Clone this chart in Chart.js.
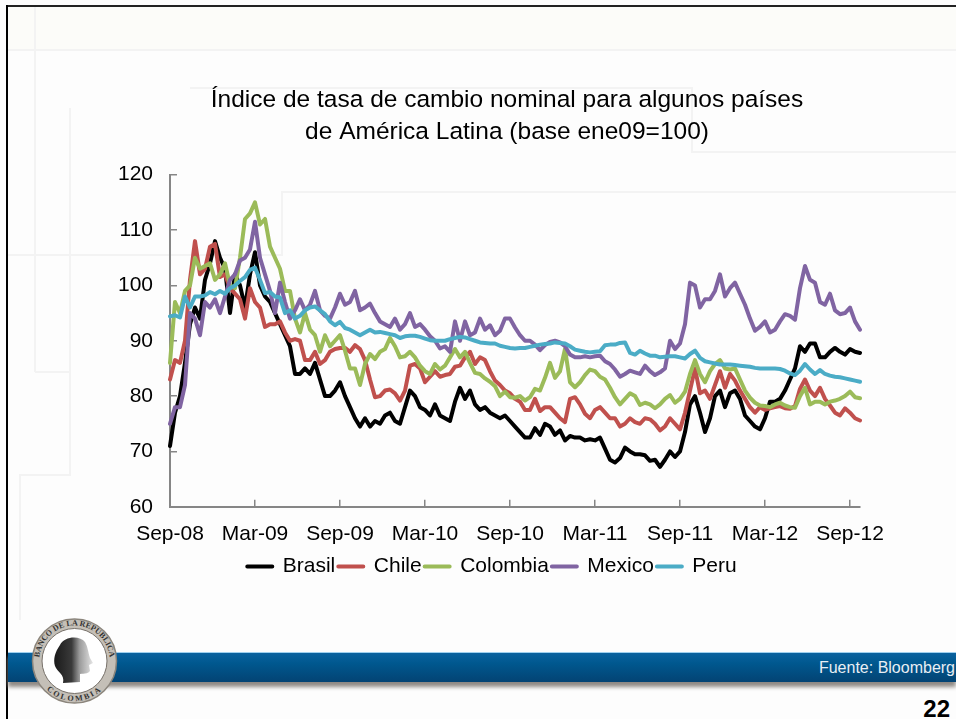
<!DOCTYPE html>
<html>
<head>
<meta charset="utf-8">
<title>Tasa de cambio nominal</title>
<script src="https://cdn.jsdelivr.net/npm/chart.js@4"></script>
<style>
  html, body { margin: 0; padding: 0; background: #fff; }
  #slide { position: relative; width: 956px; height: 719px; overflow: hidden; background: #fdfdfd; font-family: "Liberation Sans", Arial, sans-serif; }
  #slide svg, #slide canvas, #slide div { position: absolute; }
  #chart { left: 0; top: 0; }
  #band { left: 8px; right: 0; top: 652px; height: 30px; background: linear-gradient(#0b629f, #00588f 35%, #034373); border-top: 1px solid #9fd0ee; box-sizing: border-box; box-shadow: 0 5px 4px #8f8a85; }
  #source { right: 1px; top: 659px; color: #e8eef4; font-size: 16px; }
  #page { right: 6px; top: 695px; font-size: 24px; font-weight: bold; color: #000; }
</style>
</head>
<body>
<div id="slide">
  <svg id="decor" width="956" height="719">
    <rect x="8" y="6" width="948" height="44" fill="#fcfcf9"/>
    <g stroke="#f3f3f3" stroke-width="2" fill="none">
      <path d="M8 50H956"/>
      <path d="M35 6V372"/>
      <path d="M70 108V475H20V620"/>
      <path d="M35 372H70"/>
      <path d="M8 255H282V192H956"/>
      <path d="M190 88H692V152H956"/>
    </g>
    <rect x="6" y="5" width="950" height="2" fill="#222"/>
    <rect x="6" y="5" width="2" height="714" fill="#000"/>
  </svg>
  <div id="band"></div>
  <div id="source">Fuente: Bloomberg</div>
  <div id="page">22</div>
  <svg id="seal" width="956" height="719">
    <defs>
      <path id="sealTop" d="M41 672A35.3 35.3 0 1 1 108 672"/>
      <path id="sealBottom" d="M40.5 682A40 40 0 0 0 108.5 682"/>
      <linearGradient id="head" x1="0" y1="0" x2="1" y2="0">
        <stop offset="0" stop-color="#1a1a1a"/>
        <stop offset="0.45" stop-color="#3a3a3a"/>
        <stop offset="0.65" stop-color="#9a9a9a"/>
        <stop offset="1" stop-color="#e5e5e5"/>
      </linearGradient>
    </defs>
    <circle cx="74.5" cy="661" r="42" fill="#c4bfb7" stroke="#8b857c" stroke-width="1.5"/>
    <circle cx="74.5" cy="661" r="32.5" fill="#fff" stroke="#77716a" stroke-width="1"/>
    <path d="M60 645C64 636 80 635 85 642C88 647 88 652 90 658L93 663L89 665L90 671C87 675 83 673 80 674L80 682L63 683C65 674 57 672 55 666C53 659 55 652 60 645Z" fill="url(#head)"/>
    <text font-family="Liberation Serif" font-weight="bold" font-size="8" fill="#333">
      <textPath href="#sealTop" startOffset="50%" text-anchor="middle">BANCO DE LA REPUBLICA</textPath>
    </text>
    <text font-family="Liberation Serif" font-weight="bold" font-size="8" fill="#333" letter-spacing="2">
      <textPath href="#sealBottom" startOffset="50%" text-anchor="middle">COLOMBIA</textPath>
    </text>
  </svg>
  <canvas id="chart" width="956" height="719"></canvas>
</div>

<script>
const tickLabels = ['Sep-08', 'Mar-09', 'Sep-09', 'Mar-10', 'Sep-10', 'Mar-11', 'Sep-11', 'Mar-12', 'Sep-12'];

// values, about one every ten days
const brasil = [
  71, 77, 80, 86, 93, 96, 94, 101, 104, 108,
  105, 103, 95, 102, 100, 96, 102, 106, 100, 98,
  97, 95, 93, 91, 89, 84, 84, 85, 84, 86,
  83, 80, 80, 81, 82.5, 80, 78, 76, 74.5, 76,
  74.5, 75.5, 75, 76.5, 77, 75.5, 75, 78, 81, 80,
  78, 77.5, 76.5, 78.5, 76.5, 76, 75.5, 79, 81.5, 79.5,
  81, 78.5, 77.5, 78, 77, 76.5, 76, 76.5, 75.5, 74.5,
  73.5, 72.5, 72.5, 74.2, 73, 75, 74.5, 73, 73.8, 72,
  72.8, 72.5, 72.5, 72, 72.2, 72, 72.5, 70.5, 68.5, 68,
  68.8, 70.7, 70, 69.5, 69.5, 69.3, 68.3, 68.5, 67.2, 68.5,
  70, 69, 70, 73.5, 78.5, 80, 77, 73.5, 76, 80,
  81, 78, 80.5, 81, 79.5, 76.5, 75.5, 74.5, 74, 76,
  79, 79, 79.5, 81, 83, 85, 89, 88, 89.5, 89.5,
  87, 87, 88, 88.7, 88, 87.5, 88.5, 88, 87.8
];
const chile = [
  83, 86.5, 86, 90, 101, 108, 102, 103, 107, 107.5,
  101.5, 102, 99.5, 98.5, 97.5, 94, 99.5, 97, 96, 92.5,
  93, 93, 93.5, 91.5, 90, 90.3, 90, 86.5, 86.5, 88,
  85.8, 86.5, 88, 88.5, 88.7, 88.7, 88, 89.2, 88.5, 86.5,
  83, 79.8, 80, 81, 81.2, 80.5, 79.2, 81, 85.5, 85.8,
  85, 82.5, 83.5, 84.5, 83.5, 83.8, 84, 85.3, 85.5, 87,
  88, 85.8, 87, 86.5, 84.5, 82.8, 82, 81, 80.5, 79.5,
  79, 77.5, 77.5, 79.5, 77.3, 78, 78, 77, 76, 75.3,
  79.5, 79.8, 78.5, 76.8, 76, 77.5, 78, 77, 76, 76,
  74.5, 75, 76, 75.3, 75, 76, 75.8, 75, 73.8, 74.5,
  76, 75, 74, 77, 81, 85, 80.5, 81, 79.5, 82,
  84.5, 81.5, 84, 82.8, 81, 79.5, 78, 77, 78, 77.5,
  77.8, 78, 78.2, 77.8, 77.7, 78.2, 81.3, 83, 81, 80,
  81.5, 79.5, 78.3, 77, 76.5, 77.8, 77, 76, 75.6
];
const colombia = [
  86, 97, 95, 99, 100, 105, 103, 103.5, 104, 101,
  102, 104, 100, 99.5, 105, 112, 113, 115, 111, 112,
  107, 105, 103, 99, 99, 94, 91.5, 95, 92, 91,
  88, 91, 89, 90, 91, 88.2, 85, 85, 82, 85.8,
  87.6, 86.7, 88, 88.5, 90.5, 89, 87, 87.2, 88, 87,
  85.5, 84.5, 84, 85.8, 84.8, 85.5, 87, 88.5, 87, 88,
  86, 84.2, 84, 83.2, 82.6, 81.8, 80, 80.8, 79.8, 79.7,
  80, 79.2, 79.8, 81.3, 81, 83.3, 86, 83.3, 84.5, 88.5,
  82.5, 81.6, 82.5, 83.8, 84.8, 84.5, 83.5, 83, 81.5, 79.8,
  78.5, 79.5, 80.5, 80, 78.4, 78.8, 78.5, 77.8, 78.5, 79.5,
  80.2, 78.8, 79.5, 80.8, 84, 86.5, 84, 82.5, 84.5, 85.8,
  86.5, 85, 84.8, 85, 83, 81, 79.7, 78.8, 78.3, 78.2,
  78, 78.5, 78.8, 78.3, 78, 77.9, 80, 81.5, 78.5, 79,
  79, 78.5, 79, 79.2, 79.5, 80, 80.8, 79.8, 79.6
];
const mexico = [
  75, 78, 78, 82, 95, 94, 91, 97, 96, 97.5,
  95, 98, 101, 102, 104.5, 105, 106.5, 111.5, 105, 102,
  99, 95, 100.5, 97, 94, 95.5, 97.5, 95.5, 96.5, 99,
  95.5, 94.5, 94, 96, 98.5, 96.5, 97, 99, 95.5, 96,
  96.7, 95, 93.5, 93, 92.5, 94, 92, 93, 95, 92.5,
  93, 92, 90.8, 90, 88.6, 89, 88, 93.5, 90, 93.5,
  91, 91.5, 94, 92, 92.8, 91, 91.8, 94, 94, 92.4,
  91, 90, 90, 89.3, 88.3, 89.2, 89.8, 90, 89.7, 89,
  87.5, 87, 87, 87.2, 87, 87.2, 87.3, 86.3, 85.8, 84.8,
  83.5, 84, 84.6, 84.3, 84, 85.5, 84.5, 83.8, 84.3, 85,
  90, 88.5, 89.5, 93, 100.5, 100, 96, 97.5, 97.5, 99,
  102, 98, 99.5, 100.5, 98.5, 96.5, 94, 91.8, 92.5, 93.5,
  91.5, 92, 93.5, 94.8, 94.5, 93.8, 99.5, 103.5, 101, 100.5,
  97, 96.5, 98.5, 95.5, 94.8, 95, 96, 93.5, 92
];
const peru = [
  94.4, 94.6, 94.2, 98, 96, 98, 98, 98.2, 98.8, 98.4,
  99, 98.5, 99.5, 100, 100.8, 101.5, 102.8, 103.2, 101, 98.6,
  98.8, 98, 97.8, 95, 95.5, 94, 94.5, 95.5, 96, 96.2,
  95.5, 94.8, 93.5, 92.8, 93.4, 92.3, 92, 91.5, 91, 91.5,
  92, 91.5, 91.6, 91.4, 91.2, 91, 90.5, 90.8, 90.9, 90.9,
  90.7, 90.4, 90.1, 90, 90, 90, 90.3, 90.5, 90.7, 90.6,
  90.3, 90, 89.7, 89.6, 89.5, 89.5, 89.1, 88.9, 88.7, 88.6,
  88.7, 88.7, 88.9, 89.1, 89.3, 89.4, 89.5, 89.7, 89.6, 89.5,
  89, 88.4, 88.2, 88, 87.9, 88, 88.1, 89.2, 89.3, 89.3,
  89.6, 89.7, 87.8, 87.5, 88.2, 87.7, 87.3, 87.3, 87, 87.1,
  87.2, 87.2, 87, 86.8, 87.6, 88.2, 86.9, 86.3, 86.1, 85.9,
  85.7, 85.7, 85.7, 85.6, 85.5, 85.4, 85.3, 85.1, 85, 85,
  85, 85, 84.9, 84.6, 84.1, 83.8, 84.6, 85.8, 84.8, 84,
  84.7, 84, 83.7, 83.5, 83.4, 83.2, 83, 82.8, 82.6
];

// one sample label every sixth month, the rest stay blank
const categories = brasil.map((v, i) => (i % 17 === 0 ? tickLabels[i / 17] : ''));

const axisGrey = '#868686';
const font = { family: '"Liberation Sans", Arial, sans-serif', size: 21 };

function line(label, data, color, order) {
  return { label, data, borderColor: color, backgroundColor: color, borderWidth: 4, order };
}

// title and legend are not centred on the slide in the original
const moveBoxes = {
  id: 'moveBoxes',
  afterLayout(chart) {
    chart.titleBlock.left += 72;
    chart.titleBlock.right += 72;
    chart.legend.left += 57;
    chart.legend.right += 57;
    chart.legend.top -= 16;
    chart.legend.bottom -= 16;
  }
};

new Chart(document.getElementById('chart').getContext('2d'), {
  type: 'line',
  data: {
    labels: categories,
    datasets: [
      line('Brasil', brasil, '#000000', 5),
      line('Chile', chile, '#c0504d', 4),
      line('Colombia', colombia, '#9bbb59', 3),
      line('Mexico', mexico, '#8064a2', 2),
      line('Peru', peru, '#4bacc6', 1)
    ]
  },
  plugins: [moveBoxes],
  options: {
    responsive: false,
    animation: false,
    layout: { padding: { left: 10, right: 96, top: 0, bottom: 116 } },
    elements: {
      point: { radius: 0 },
      line: { tension: 0, borderJoinStyle: 'round', borderCapStyle: 'round' }
    },
    plugins: {
      tooltip: { enabled: false },
      title: {
        display: true,
        text: ['Índice de tasa de cambio nominal para algunos países', 'de América Latina (base ene09=100)'],
        color: '#000',
        font: { ...font, size: 24.5, weight: 'normal', lineHeight: 1.3 },
        padding: { top: 84, bottom: 27 }
      },
      legend: {
        position: 'bottom',
        labels: {
          boxWidth: 25,
          boxHeight: 0,
          padding: 3,
          color: '#000',
          font,
          sort: (a, b) => a.datasetIndex - b.datasetIndex
        }
      }
    },
    scales: {
      x: {
        ticks: { autoSkip: false, maxRotation: 0, color: '#000', font, padding: 22 },
        afterBuildTicks(scale) {
          scale.ticks = scale.ticks.filter(t => t.value % 17 === 0);
        },
        grid: { drawOnChartArea: false, tickLength: -7, color: axisGrey, lineWidth: 1.5 },
        border: { color: axisGrey, width: 2 }
      },
      y: {
        min: 60,
        max: 120,
        ticks: { stepSize: 10, color: '#000', font, padding: 24 },
        afterFit(scale) {
          scale.width = 160;
        },
        grid: { drawOnChartArea: false, tickLength: -7, color: axisGrey, lineWidth: 1.5 },
        border: { color: axisGrey, width: 2 }
      }
    }
  }
});
</script>
</body>
</html>
